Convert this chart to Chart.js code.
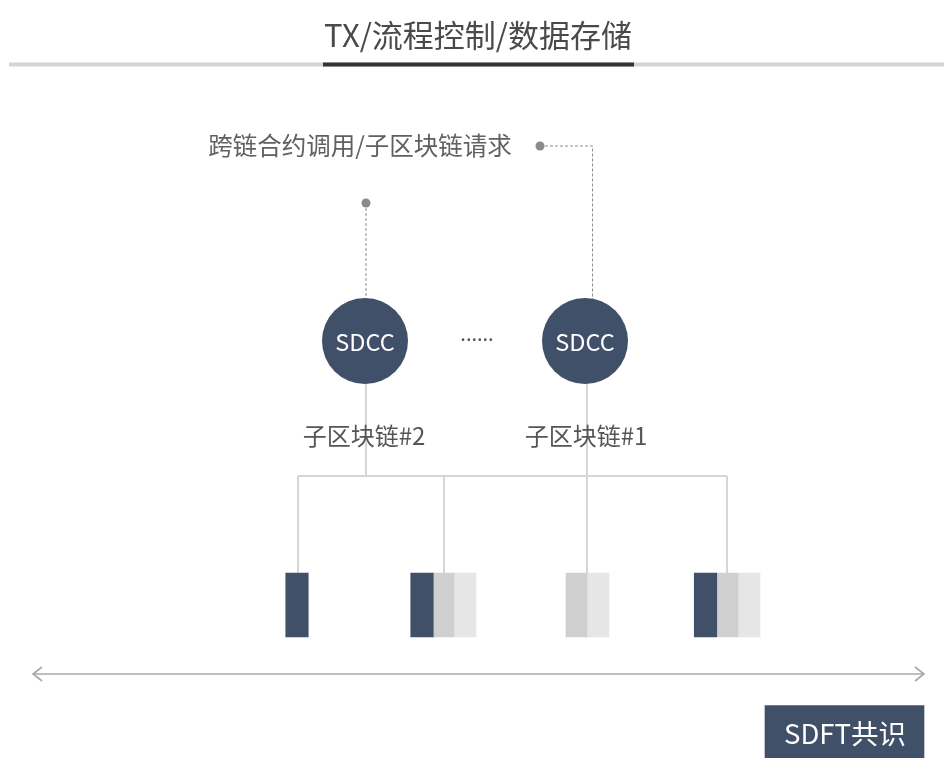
<!DOCTYPE html>
<html lang="zh">
<head>
<meta charset="UTF-8">
<title>TX/流程控制/数据存储</title>
<script src="https://cdn.jsdelivr.net/npm/chart.js"></script>
<style>
  html, body { margin: 0; padding: 0; background: #fff; }
  #wrap { width: 944px; height: 758px; position: relative; }
</style>
</head>
<body>
<div id="wrap"><canvas id="diagram"></canvas></div>
<script>
// diagram content, in the 944 x 758 drawing units of the scales
const titleText = 'TX/流程控制/数据存储';
const requestText = '跨链合约调用/子区块链请求';
const nodeNames = ['SDCC', 'SDCC'];
const chainLabels = ['子区块链#2', '子区块链#1'];
const consensusText = 'SDFT共识';

const nodeX = [365, 585];
const nodeY = [341, 341];

// blocks under the chains: dark / grey / light columns
const darkBlocks = [297, 422, 705.5];
const greyBlocks = [443.5, 576.5, 727.5];
const lightBlocks = [465, 598, 749];
const blockRange = [573, 637];

// tree connectors [x1, y1, x2, y2]
const treeLinks = [
  [366, 383, 366, 476],
  [298, 476, 727, 476],
  [298, 476, 298, 573],
  [444, 476, 444, 573],
  [587, 383, 587, 573],
  [727, 476, 727, 573]
];
// dashed request links
const requestLinks = [
  [[540, 146], [592.5, 146], [592.5, 299]],
  [[366, 203], [366, 299]]
];
const requestDots = [[540, 146], [366, 203]];

const navy = '#415069';

function seg(points) {
  return points.map(p => ({ x: p[0], y: p[1] }));
}

const datasets = [];

datasets.push({
  type: 'scatter',
  data: nodeX.map((x, i) => ({ x: x, y: nodeY[i] })),
  pointRadius: 43,
  pointHoverRadius: 43,
  backgroundColor: navy,
  borderWidth: 0,
  order: 0
});

datasets.push({
  type: 'scatter',
  data: seg(requestDots),
  pointRadius: 4.5,
  backgroundColor: '#8a8a8a',
  borderWidth: 0,
  order: 0
});

[[darkBlocks, navy, 22.5], [greyBlocks, '#cfcfcf', 21], [lightBlocks, '#e6e6e6', 22]].forEach(b => {
  datasets.push({
    type: 'bar',
    data: b[0].map(x => ({ x: x, y: blockRange })),
    backgroundColor: b[1],
    barThickness: b[2],
    grouped: false,
    borderWidth: 0,
    order: 1
  });
});

// SDFT box
datasets.push({
  type: 'bar',
  data: [{ x: 844.5, y: [705.5, 758] }],
  backgroundColor: navy,
  barThickness: 159,
  grouped: false,
  borderWidth: 0,
  order: 1
});

treeLinks.forEach(l => {
  datasets.push({
    type: 'line',
    data: seg([[l[0], l[1]], [l[2], l[3]]]),
    borderColor: '#d6d6d6',
    borderWidth: 2,
    pointRadius: 0,
    order: 2
  });
});

requestLinks.forEach(l => {
  datasets.push({
    type: 'line',
    data: seg(l),
    borderColor: '#8c8c8c',
    borderWidth: 1,
    borderDash: [3, 2],
    pointRadius: 0,
    order: 2
  });
});

// title underline
datasets.push({
  type: 'line', data: seg([[9, 64.5], [944, 64.5]]),
  borderColor: '#d4d4d4', borderWidth: 4, pointRadius: 0, order: 3
});
datasets.push({
  type: 'line', data: seg([[323, 64.5], [634, 64.5]]),
  borderColor: '#333333', borderWidth: 4, pointRadius: 0, order: 2
});

// double arrow
[[[33, 674], [924, 674]], [[42, 667], [33, 674], [42, 681]], [[915, 667], [924, 674], [915, 681]]].forEach(l => {
  datasets.push({
    type: 'line', data: seg(l),
    borderColor: '#a8a8a8', borderWidth: 1.6, pointRadius: 0, order: 2
  });
});

const cjk = '"Noto Sans CJK SC", "Noto Sans", sans-serif';

const textItems = [
  { t: titleText, x: 478, y: 35, size: 31, color: '#4a4a4a' },
  { t: requestText, x: 360, y: 146, size: 24.5, color: '#606060' },
  { t: nodeNames[0], x: nodeX[0], y: nodeY[0] + 1, size: 23.5, color: '#ffffff' },
  { t: nodeNames[1], x: nodeX[1], y: nodeY[1] + 1, size: 23.5, color: '#ffffff' },
  { t: '......', x: 477, y: 333, size: 20, color: '#555555' },
  { t: chainLabels[0], x: 364, y: 436, size: 24, color: '#555555' },
  { t: chainLabels[1], x: 586, y: 436, size: 24, color: '#555555' },
  { t: consensusText, x: 845, y: 734, size: 27.5, color: '#ffffff' }
];

const textPlugin = {
  id: 'texts',
  afterDatasetsDraw(chart) {
    const ctx = chart.ctx;
    const xs = chart.scales.x, ys = chart.scales.y;
    ctx.save();
    ctx.textAlign = 'center';
    ctx.textBaseline = 'middle';
    textItems.forEach(it => {
      ctx.font = it.size + 'px ' + cjk;
      ctx.fillStyle = it.color;
      ctx.fillText(it.t, xs.getPixelForValue(it.x), ys.getPixelForValue(it.y));
    });
    ctx.restore();
  }
};

new Chart(document.getElementById('diagram'), {
  type: 'bar',
  data: { datasets: datasets },
  options: {
    responsive: true,
    maintainAspectRatio: false,
    animation: false,
    layout: { padding: 0, autoPadding: false },
    plugins: { legend: { display: false }, tooltip: { enabled: false } },
    scales: {
      x: { type: 'linear', min: 0, max: 944, offset: false, display: false },
      y: { type: 'linear', min: 0, max: 758, reverse: true, display: false }
    }
  },
  plugins: [textPlugin]
});
</script>
</body>
</html>
